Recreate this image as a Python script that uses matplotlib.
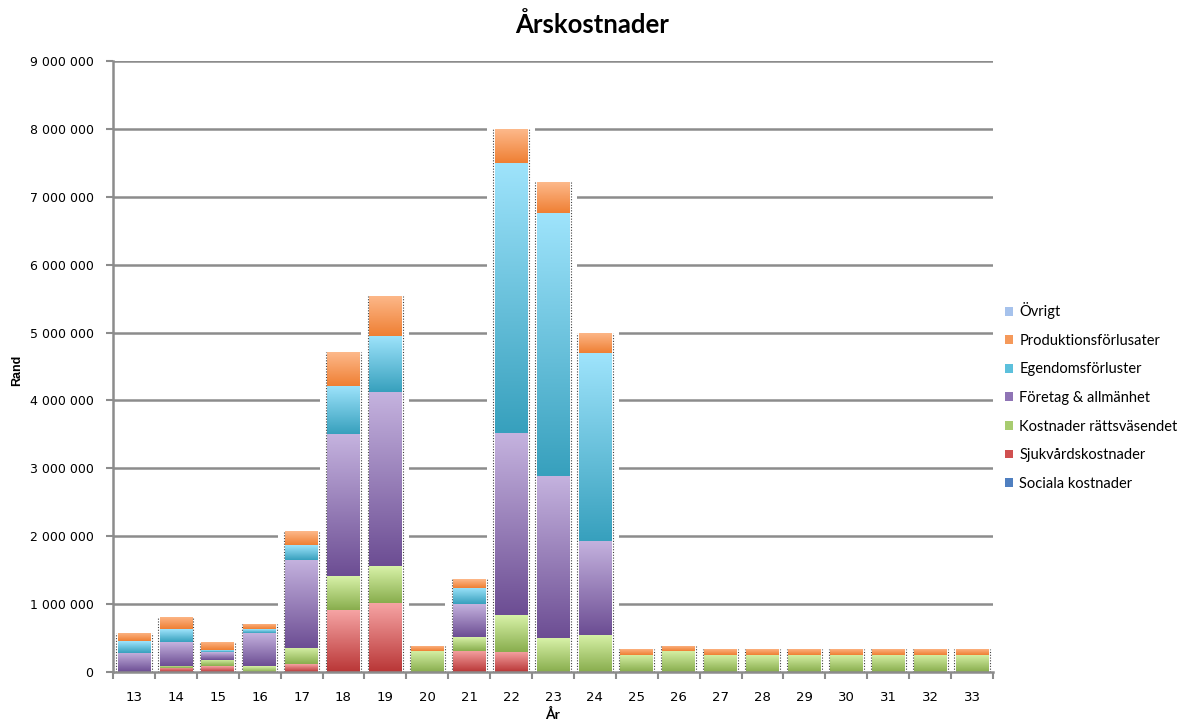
import numpy as np
import matplotlib
matplotlib.use('Agg')
import matplotlib.pyplot as plt
from matplotlib.colors import LinearSegmentedColormap
from matplotlib.patches import Patch

# ---------------- data ----------------
years = [str(y) for y in range(13, 34)]
sociala     = [0]*21
sjukvard    = [0, 60000, 88000, 0, 115000, 910000, 1016000, 0, 310000, 300000, 0, 0,
               0, 0, 0, 0, 0, 0, 0, 0, 0]
rattsvasend = [0, 35000, 94000, 88000, 240000, 500000, 545000, 310000, 200000, 543000, 494000, 549000,
               255000, 310000, 255000, 255000, 255000, 255000, 255000, 255000, 255000]
foretag     = [280000, 347000, 110000, 486000, 1300000, 2090000, 2560000, 0, 486000, 2680000, 2390000, 1385000,
               0, 0, 0, 0, 0, 0, 0, 0, 0]
egendom     = [172000, 186000, 25000, 54000, 210000, 717000, 830000, 0, 240000, 3980000, 3880000, 2760000,
               0, 0, 0, 0, 0, 0, 0, 0, 0]
produktion  = [122000, 180000, 130000, 74000, 206000, 500000, 594000, 80000, 132000, 500000, 455000, 300000,
               90000, 80000, 90000, 90000, 90000, 90000, 90000, 90000, 90000]
ovrigt      = [0]*21

series_names = ["Sociala kostnader", "Sjukvårdskostnader", "Kostnader rättsväsendet",
                "Företag & allmänhet", "Egendomsförluster", "Produktionsförlusater", "Övrigt"]
series_vals = [sociala, sjukvard, rattsvasend, foretag, egendom, produktion, ovrigt]
# (top colour, bottom colour, legend colour)
series_cols = [("#a4c0ea", "#3e6fb0", "#4f7fc0"),
               ("#f6a4a4", "#b93636", "#d05050"),
               ("#d8f2a8", "#88ad4d", "#a8cc70"),
               ("#c5b3df", "#6c4d93", "#8f74b5"),
               ("#9fe4fc", "#37a0bd", "#5cc0dc"),
               ("#fdb98b", "#ef7f33", "#f5995a"),
               ("#c9dcf7", "#8cade0", "#a6c2ec")]

# ---------------- figure ----------------
fig = plt.figure(figsize=(11.92, 7.22), dpi=100)
ax = fig.add_axes([113/1192, 1-672/722, (993-113)/1192, (672-61)/722])

n = len(years)
x = np.arange(n)
width = 0.78
grid_c = "#8c8c8c"

totals = np.sum(np.array(series_vals, dtype=float), axis=0)

# white halo behind bars (interrupts gridlines)
ax.bar(x, totals + 100000, width=width + 0.36, color="white", edgecolor="none", zorder=2)

grad = np.linspace(0, 1, 256).reshape(-1, 1)
bottom = np.zeros(n)
for name, vals, (ctop, cbot, _) in zip(series_names, series_vals, series_cols):
    vals = np.array(vals, dtype=float)
    bars = ax.bar(x, vals, width=width, bottom=bottom, color="none", edgecolor="none", zorder=3)
    cmap = LinearSegmentedColormap.from_list(name, [cbot, ctop])
    for b in bars:
        h = b.get_height()
        if h <= 0:
            continue
        x0, y0, w = b.get_x(), b.get_y(), b.get_width()
        im = ax.imshow(grad, extent=[x0, x0 + w, y0, y0 + h], origin="lower", aspect="auto",
                       cmap=cmap, zorder=3, interpolation="bilinear")
        im.set_clip_path(b)
    bottom += vals

# dotted side edges
for xi, t in zip(x, totals):
    if t <= 0:
        continue
    for side in (-1, 1):
        xe = xi + side * (width / 2 + 0.03)
        ax.plot([xe, xe], [0, t], color="#404040", lw=0.8, ls=(0, (1, 1.5)), zorder=4)

ax.set_xlim(-0.5, n - 0.5)
ax.set_ylim(0, 9000000)
ax.set_aspect("auto")

# grid
ax.set_yticks(np.arange(0, 9000001, 1000000))
ax.set_yticklabels([f"{int(v):,}".replace(",", " ") for v in np.arange(0, 9000001, 1000000)],
                   fontsize=9, family="DejaVu Sans")
ax.yaxis.grid(True, color=grid_c, lw=1.8, zorder=1)
ax.set_axisbelow(True)

ax.set_xticks(x)
ax.set_xticklabels(years, fontsize=9.5, family="DejaVu Sans")
ax.set_xticks(np.arange(-0.5, n, 1), minor=True)
ax.tick_params(axis="x", which="major", length=0, pad=14)
ax.tick_params(axis="x", which="minor", length=5, width=1.5, color=grid_c)
ax.tick_params(axis="y", length=5, width=1.5, color=grid_c, pad=9)

for s in ("top", "right"):
    ax.spines[s].set_visible(False)
for s in ("left", "bottom"):
    ax.spines[s].set_color(grid_c)
    ax.spines[s].set_linewidth(1.8)
    ax.spines[s].set_zorder(5)

# labels
fig.text(0.497, 1 - 25/722, "Årskostnader", ha="center", va="center",
         fontsize=18.5, fontweight="bold", family="Lato")
fig.text(17/1192, 1 - 370/722, "Rand", ha="center", va="center", rotation=90,
         fontsize=9, fontweight="bold", family="Liberation Sans")
fig.text(553/1192, 1 - 714/722, "År", ha="center", va="center",
         fontsize=10, fontweight="bold", family="Lato")

# legend (top = Övrigt)
handles = [Patch(facecolor=c[2], edgecolor="none") for c in series_cols][::-1]
labels = series_names[::-1]
fig.legend(handles, labels, loc="upper left", bbox_to_anchor=(998/1192, 1 - 295/722),
           frameon=False, borderpad=0, handlelength=0.55, handleheight=0.55,
           handletextpad=0.4, labelspacing=1.0, prop={"family": "Lato", "size": 10.5})

fig.savefig("out.png", dpi=100)
